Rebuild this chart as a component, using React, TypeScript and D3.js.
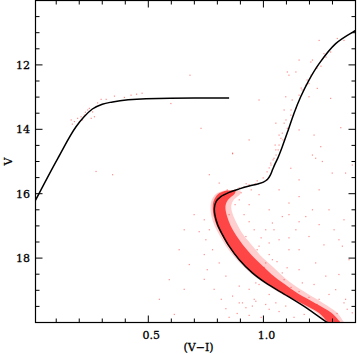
import React from "react";
import * as d3 from "d3";

// Isochrone ridge line (V-I, V)
const isoColor = [1.285, 1.271, 1.19, 1.105, 1.01, 0.952, 0.895, 0.851, 0.822, 0.801, 0.789, 0.787, 0.795, 0.815, 0.851, 0.895, 0.938, 0.975, 1.0, 1.018, 1.03, 1.04, 1.05, 1.061, 1.082, 1.108, 1.133, 1.162, 1.198, 1.242, 1.314, 1.401, 1.45];
const isoMag = [20.02, 19.97, 19.56, 19.18, 18.77, 18.46, 18.05, 17.63, 17.27, 16.96, 16.65, 16.45, 16.24, 16.09, 15.96, 15.85, 15.76, 15.7, 15.64, 15.55, 15.42, 15.25, 15.08, 14.92, 14.54, 14.02, 13.5, 12.99, 12.47, 11.96, 11.34, 10.93, 10.75];

// Horizontal branch track
const hbColor = [-0.01, 0.107, 0.186, 0.22, 0.257, 0.3, 0.345, 0.49, 0.7, 0.851];
const hbMag = [16.48, 14.9, 13.92, 13.62, 13.37, 13.22, 13.15, 13.05, 13.03, 13.03];

// Dense main-sequence band (edges in V-I at each V)
const bandMag = [15.9, 16.0, 16.2, 16.4, 16.7, 17.0, 17.3, 17.6, 17.9, 18.2, 18.5, 18.8, 19.1, 19.4, 19.7, 20.0];
const bandLeft = [0.84, 0.805, 0.785, 0.78, 0.784, 0.798, 0.82, 0.845, 0.877, 0.915, 0.96, 1.018, 1.085, 1.165, 1.24, 1.28];
const bandCoreRight = [0.88, 0.875, 0.845, 0.835, 0.842, 0.858, 0.882, 0.912, 0.948, 0.99, 1.035, 1.09, 1.15, 1.225, 1.295, 1.335];
const bandHaloRight = [0.9, 0.9, 0.87, 0.86, 0.87, 0.89, 0.915, 0.95, 0.985, 1.03, 1.075, 1.125, 1.19, 1.26, 1.32, 1.35];

// Individual stars (V-I, V)
const starColor = [
  1.321, 1.292, 1.263, 1.213, 1.206, 1.141, 1.104, 1.111, 1.198, 1.184, 1.234, 1.097, 1.198, 1.292, 1.147, 1.141, 1.119, 1.054, 1.09, 1.104, 1.336, 1.082, 1.076, 1.22, 1.249, 1.213, 1.256, 1.054, 1.046, 1.032, 1.119, 1.299, 1.039,
  1.064, 1.085, 1.068, 1.055, 1.042, 1.025, 1.016, 1.098, 1.12, 1.155, 1.168, 1.19, 1.233, 1.272, 1.35,
  1.016, 0.99, 0.964, 0.938, 0.916, 0.895, 0.877, 0.864, 0.973, 0.925, 0.999, 0.843, 0.947, 0.903, 0.83,
  0.165, 0.179, 0.193, 0.208, 0.222, 0.237, 0.244, 0.258, 0.266, 0.252, 0.201, 0.28, 0.295, 0.317, 0.353, 0.396, 0.425, 0.449, 0.473, 0.598, 0.681, 0.729, 0.866, 0.273, 0.345, 0.17, 0.227, 0.214,
  0.866, 0.765, 0.808, 1.227, 1.386, 1.357, 1.155, 1.111, 1.213, 1.184, 1.082, 1.039, 1.01, 1.141, 1.198, 1.111, 1.068, 1.025, 1.111, 1.155, 1.328, 1.343, 0.924, 0.981, 0.938, 0.967, 0.895, 0.866, 0.909, 0.952, 0.837, 0.808, 0.779, 0.75, 1.155, 1.227, 1.271, 1.314, 1.242, 1.357, 1.169, 1.082, 1.039, 1.01,
  0.837, 0.895, 0.924, 0.967, 1.01, 1.025, 1.054, 1.097, 1.35, 1.364, 1.386, 0.699, 0.721, 0.678, 0.656, 0.743, 0.548, 0.613,
  0.895, 0.916, 0.938, 0.96, 0.99, 0.973, 1.025, 1.003, 1.059, 1.09, 1.12, 1.155, 1.198, 1.233, 1.32, 1.177, 1.133, 1.068, 0.99, 0.938, 0.886, 0.851, 0.817, 0.786, 0.756, 0.743, 0.765, 0.743, 0.851, 0.877, 0.938, 1.025, 0.981, 1.068, 1.155, 1.242, 1.285, 1.35, 1.307, 1.263, 1.372, 1.328, 1.22, 1.285, 1.103, 1.046, 1.155, 1.242, 1.111, 0.981, 1.025, 0.96, 0.634, 0.656, 0.591,
  1.09, 1.125, 1.164, 1.207, 1.25, 1.068, 1.051, 1.033, 1.155, 0.981, 0.938, 1.242, 1.155
];
const starMag = [
  11.18, 11.6, 11.65, 11.85, 11.91, 12.22, 12.22, 12.32, 12.58, 12.63, 12.73, 12.99, 12.99, 13.04, 13.25, 13.35, 13.56, 13.81, 13.81, 13.97, 13.95, 14.12, 14.28, 14.18, 14.54, 14.8, 15.0, 14.64, 14.9, 15.05, 15.21, 15.36, 15.26,
  14.64, 14.33, 14.49, 14.8, 14.95, 15.2, 15.32, 13.71, 13.4, 12.94, 12.78, 12.47, 12.1, 11.76, 11.24,
  15.57, 15.66, 15.69, 15.72, 15.79, 15.82, 15.88, 15.94, 15.6, 15.69, 15.51, 15.88, 15.88, 15.97, 16.07,
  13.71, 13.76, 13.66, 13.61, 13.56, 13.4, 13.35, 13.46, 13.61, 13.66, 13.76, 13.18, 13.07, 13.07, 12.97, 13.01, 12.94, 12.91, 12.88, 13.2, 12.32, 13.97, 14.76, 15.31, 15.41, 13.84, 13.47, 13.71,
  14.74, 15.41, 15.67, 14.9, 15.11, 15.36, 16.09, 16.29, 16.5, 16.71, 16.71, 16.91, 17.12, 17.12, 17.33, 17.37, 17.43, 17.53, 17.74, 17.74, 17.43, 17.63, 17.33, 17.63, 18.97, 18.77, 18.87, 19.18, 19.39, 19.49, 18.56, 18.15, 17.74, 17.43, 18.36, 18.15, 18.56, 18.98, 19.28, 19.28, 18.77, 18.46, 18.05, 18.15,
  19.57, 19.39, 19.54, 19.34, 19.44, 19.59, 19.39, 19.49, 19.39, 19.59, 19.7, 16.65, 17.18, 18.2, 18.97, 18.66, 19.28, 19.75,
  16.19, 16.65, 16.87, 17.12, 17.37, 17.74, 17.89, 18.29, 18.11, 18.67, 18.91, 19.04, 19.22, 19.44, 19.72, 19.75, 19.84, 19.66, 19.84, 19.78, 19.72, 19.84, 19.28, 18.97, 18.36, 17.89, 17.12, 16.81, 16.65, 16.34, 16.34, 16.5, 16.03, 15.88, 15.57, 15.88, 16.5, 16.81, 17.12, 17.59, 18.05, 18.51, 18.82, 19.13, 18.3, 17.12, 16.87, 16.96, 16.65, 18.82, 19.13, 19.28, 17.74, 17.12, 18.67,
  13.4, 13.09, 12.72, 12.32, 12.04, 14.18, 14.49, 15.11, 11.85, 13.09, 14.33, 11.24, 14.02
];

const xMajor = [0.5, 1.0];
const xMajorLabels = ["0.5", "1.0"];
const xMinor = [0.1, 0.2, 0.3, 0.4, 0.6, 0.7, 0.8, 0.9, 1.1, 1.2, 1.3];
const yMajor = [12, 14, 16, 18];
const yMajorLabels = ["12", "14", "16", "18"];
const yMinor = [10.5, 11, 11.5, 12.5, 13, 13.5, 14.5, 15, 15.5, 16.5, 17, 17.5, 18.5, 19, 19.5];

const W = 357, H = 354;
const L = 35.5, R = 355.5, T = 0.5, B = 322.5;

export default function App() {
  const x = d3.scaleLinear().domain([0.01, 1.4]).range([L, R]);
  const y = d3.scaleLinear().domain([10, 20]).range([T, B]);

  const iso = isoColor.map((c, i) => [c, isoMag[i]] as [number, number]);
  const hb = hbColor.map((c, i) => [c, hbMag[i]] as [number, number]);
  const isoPath = d3.line<[number, number]>().x(d => x(d[0])).y(d => y(d[1])).curve(d3.curveCatmullRom.alpha(0.5))(iso) || "";
  const hbPath = d3.line<[number, number]>().x(d => x(d[0])).y(d => y(d[1])).curve(d3.curveMonotoneX)(hb) || "";

  const band = bandMag.map((m, i) => ({ m, l: bandLeft[i], c: bandCoreRight[i], h: bandHaloRight[i] }));
  const halo = d3.area<any>().y(d => y(d.m)).x0(d => x(d.l - 0.01)).x1(d => x(d.h)).curve(d3.curveCatmullRom)(band) || "";
  const core = d3.area<any>().y(d => y(d.m)).x0(d => x(d.l)).x1(d => x(d.c)).curve(d3.curveCatmullRom)(band) || "";

  const font = "'DejaVu Serif', serif";
  return (
    <svg width={W} height={H} style={{ position: "absolute", left: 0, top: 0, background: "#fff" }}>
      <defs>
        <clipPath id="plot"><rect x={L} y={T} width={R - L} height={B - T} /></clipPath>
      </defs>
      <g clipPath="url(#plot)">
        <path d={halo} fill="#ff5050" opacity={0.28} />
        <path d={core} fill="#ff2020" opacity={0.78} />
        {starColor.map((c, i) => (
          <rect key={i} x={x(c) - 0.6} y={y(starMag[i]) - 0.6} width={1.2} height={1.2} fill="#ff3030" opacity={0.55} />
        ))}
        <path d={isoPath} fill="none" stroke="#000" strokeWidth={1.5} />
        <path d={hbPath} fill="none" stroke="#000" strokeWidth={1.5} />
      </g>
      <rect x={L} y={T} width={R - L} height={B - T} fill="none" stroke="#000" strokeWidth={1.2} />
      {xMajor.map(v => (
        <g key={"xM" + v}>
          <line x1={x(v)} x2={x(v)} y1={B} y2={B - 7} stroke="#000" />
          <line x1={x(v)} x2={x(v)} y1={T} y2={T + 7} stroke="#000" />
        </g>
      ))}
      {xMinor.map(v => (
        <g key={"xm" + v}>
          <line x1={x(v)} x2={x(v)} y1={B} y2={B - 4} stroke="#000" />
          <line x1={x(v)} x2={x(v)} y1={T} y2={T + 4} stroke="#000" />
        </g>
      ))}
      {yMajor.map(v => (
        <g key={"yM" + v}>
          <line x1={L} x2={L + 7} y1={y(v)} y2={y(v)} stroke="#000" />
          <line x1={R} x2={R - 7} y1={y(v)} y2={y(v)} stroke="#000" />
        </g>
      ))}
      {yMinor.map(v => (
        <g key={"ym" + v}>
          <line x1={L} x2={L + 4} y1={y(v)} y2={y(v)} stroke="#000" />
          <line x1={R} x2={R - 4} y1={y(v)} y2={y(v)} stroke="#000" />
        </g>
      ))}
      {xMajor.map((v, i) => (
        <text key={"xl" + v} x={x(v) + 3} y={339} textAnchor="middle" fontFamily={font} fontSize={11} stroke="#000" strokeWidth={0.3}>{xMajorLabels[i]}</text>
      ))}
      {yMajor.map((v, i) => (
        <text key={"yl" + v} x={30} y={y(v)} dy="0.36em" textAnchor="end" fontFamily={font} fontSize={11} stroke="#000" strokeWidth={0.3}>{yMajorLabels[i]}</text>
      ))}
      <text x={(L + R) / 2 + 3} y={351} textAnchor="middle" fontFamily={font} fontSize={11} stroke="#000" strokeWidth={0.3}>(V−I)</text>
      <text transform={`translate(8,${y(15)}) rotate(-90)`} textAnchor="middle" dy="0.36em" fontFamily={font} fontSize={11} stroke="#000" strokeWidth={0.3}>V</text>
    </svg>
  );
}
